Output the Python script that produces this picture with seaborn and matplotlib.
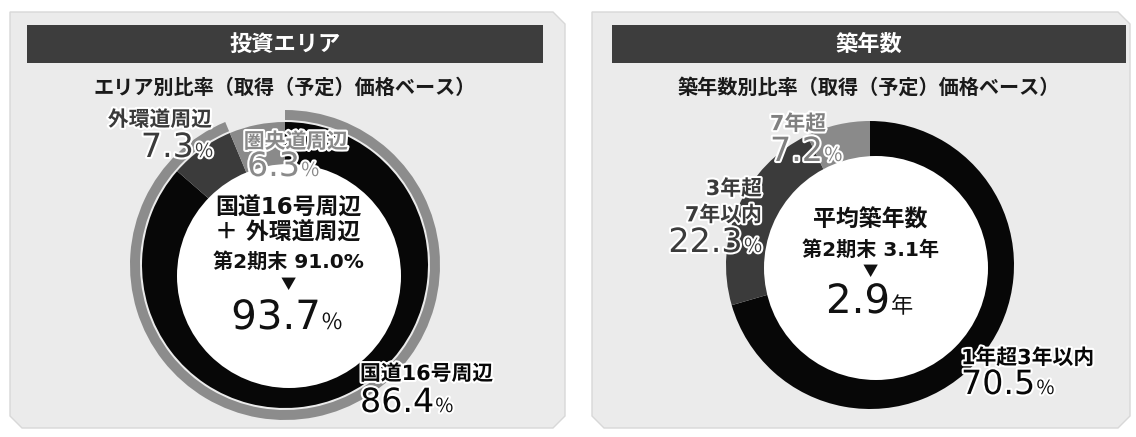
import numpy as np
import matplotlib.pyplot as plt
import matplotlib.patheffects as pe
from matplotlib.patches import Polygon, Circle, Rectangle
import seaborn as sns

# ---------------- data ----------------
area_title = "投資エリア"
area_subtitle = "エリア別比率（取得（予定）価格ベース）"
area_labels = ["国道16号周辺", "外環道周辺", "圏央道周辺"]
area_values = [86.4, 7.3, 6.3]
area_combined = 93.7          # 国道16号周辺 + 外環道周辺
area_prev = 91.0              # 第2期末

age_title = "築年数"
age_subtitle = "築年数別比率（取得（予定）価格ベース）"
age_labels = ["1年超3年以内", "3年超\n7年以内", "7年超"]
age_values = [70.5, 22.3, 7.2]
age_avg = 2.9
age_prev = 3.1

# ---------------- style ----------------
sns.set_theme(style="white")
plt.rcParams['font.family'] = ['Noto Sans CJK JP', 'DejaVu Sans']
MIXED = ['DejaVu Sans', 'Noto Sans CJK JP']   # wide latin digits, CJK fallback

W, H = 1136, 437
seg_colors = ["#070707", "#3b3b3b", "#8a8a8a"]
ring_color = "#8c8c8c"
panel_color = "#ebebeb"
bar_color = "#3d3d3d"
ink = "#111111"
halo = [pe.withStroke(linewidth=3, foreground="white")]

fig = plt.figure(figsize=(W / 100, H / 100), dpi=100)
fig.patch.set_facecolor("white")
ax = fig.add_axes([0, 0, 1, 1])


def Y(y):
    # pixel rows are measured from the top
    return H - y


# ---------------- donuts (drawn first, pie resets the limits) ----------------
L = dict(cx=285, cy=265)
R = dict(cx=870, cy=265)

ax.pie([area_combined, 100 - area_combined], colors=[ring_color, "none"],
       startangle=90, counterclock=False, center=(L["cx"], Y(L["cy"])), radius=155,
       wedgeprops=dict(width=10, linewidth=0))
ax.pie(area_values, colors=seg_colors, startangle=90, counterclock=False,
       center=(L["cx"], Y(L["cy"])), radius=143, wedgeprops=dict(linewidth=0))
ax.pie(age_values, colors=seg_colors, startangle=90, counterclock=False,
       center=(R["cx"], Y(R["cy"])), radius=144, wedgeprops=dict(linewidth=0))

ax.set_xlim(0, W)
ax.set_ylim(0, H)
ax.set_aspect("equal")
ax.axis("off")

# white holes, a little off-centre as in the printed chart
ax.add_patch(Circle((289, Y(276)), 112, fc="white", ec="none", zorder=3))
ax.add_patch(Circle((876, Y(268)), 112, fc="white", ec="none", zorder=3))


def panel(x0, x1, y0, y1, c=12):
    pts = [(x0, Y(y0)), (x1 - c, Y(y0)), (x1, Y(y0 + c)), (x1, Y(y1 - c)),
           (x1 - c, Y(y1)), (x0 + c, Y(y1)), (x0, Y(y1 - c))]
    ax.add_patch(Polygon(pts, closed=True, fc=panel_color, ec="#d8d8d8", lw=1, zorder=0))


def header(x0, x1, title, subtitle):
    ax.add_patch(Rectangle((x0, Y(63)), x1 - x0, 38, fc=bar_color, ec="none", zorder=1))
    ax.text((x0 + x1) / 2, Y(44), title, color="white", fontsize=16, fontweight="bold",
            ha="center", va="center", zorder=2)
    ax.text((x0 + x1) / 2, Y(87), subtitle, color="#1a1a1a", fontsize=14.5,
            fontweight="bold", ha="center", va="center", zorder=2)


def label(x, y, s, color, ha="left", size=15, **extra):
    ax.text(x, Y(y), s, fontsize=size, fontweight="bold", family=MIXED, ha=ha,
            va="center", color=color, path_effects=halo, zorder=5, **extra)


def to_data_x(px):
    return ax.transData.inverted().transform((px, 0))[0]


def pct(x, y, value, color, size=24, small=14, ha="left", unit="%"):
    # number followed by a smaller unit, sharing a baseline
    num = f"{value:.1f}"
    kw = dict(color=color, va="baseline", path_effects=halo, zorder=5)
    if ha == "right":
        u = ax.text(x, Y(y), unit, fontsize=small, ha="right", **kw)
        fig.canvas.draw()
        x0 = to_data_x(u.get_window_extent().x0)
        ax.text(x0 - 1, Y(y), num, fontsize=size, family="DejaVu Sans", ha="right", **kw)
    else:
        t = ax.text(x, Y(y), num, fontsize=size, family="DejaVu Sans", ha=ha, **kw)
        fig.canvas.draw()
        x1 = to_data_x(t.get_window_extent().x1)
        ax.text(x1 + 1, Y(y), unit, fontsize=small, ha="left", **kw)


def centre(x, y, s, size):
    ax.text(x, Y(y), s, fontsize=size, fontweight="bold", family=MIXED, ha="center",
            va="center", color=ink, zorder=4)


# ---------------- panels ----------------
panel(10, 565, 12, 428)
panel(592, 1130, 12, 428)
header(27, 543, area_title, area_subtitle)
header(612, 1126, age_title, age_subtitle)

# ---------------- left texts ----------------
cx = L["cx"] + 3
centre(cx, 208, "国道16号周辺", 16.5)
centre(cx, 233, "＋ 外環道周辺", 16.5)
centre(cx, 262, f"第2期末 {area_prev:.1f}%", 14.5)
ax.text(cx, Y(284), "▼", fontsize=11, ha="center", va="center", color=ink, zorder=4)
pct(cx - 12, 329, area_combined, ink, size=29, small=16, ha="center")

label(160, 120, area_labels[1], seg_colors[1], ha="center")
pct(213, 157, area_values[1], seg_colors[1], ha="right")
label(296, 142, area_labels[2], seg_colors[2], ha="center")
pct(247, 176, area_values[2], seg_colors[2])
label(360, 374, area_labels[0], seg_colors[0])
pct(360, 412, area_values[0], seg_colors[0])

# ---------------- right texts ----------------
cx = R["cx"]
centre(cx, 220, "平均築年数", 16.5)
centre(cx, 250, f"第2期末 {age_prev:.1f}年", 14.5)
ax.text(cx, Y(271), "▼", fontsize=11, ha="center", va="center", color=ink, zorder=4)
pct(cx - 12, 313, age_avg, ink, size=29, small=16, ha="center", unit="年")

label(798, 124, age_labels[2], "#808080", ha="center")
pct(770, 161, age_values[2], "#808080")
label(762, 202, age_labels[1], seg_colors[1], ha="right", linespacing=1.4)
pct(762, 252, age_values[1], seg_colors[1], ha="right")
label(961, 358, age_labels[0], seg_colors[0])
pct(961, 394, age_values[0], seg_colors[0])

fig.savefig("out.png", dpi=100, facecolor=fig.get_facecolor())
